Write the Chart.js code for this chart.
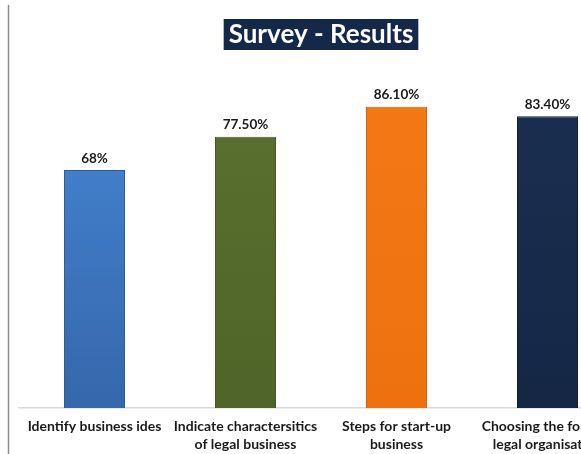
<!DOCTYPE html>
<html>
<head>
<meta charset="utf-8">
<title>Survey - Results</title>
<script src="https://cdn.jsdelivr.net/npm/chart.js@4.4.1/dist/chart.umd.min.js"></script>
<style>
    html, body {
        margin: 0;
        padding: 0;
        background: #ffffff;
        overflow: hidden;
    }
    .chart-container {
        position: absolute;
        left: 0;
        top: 0;
        width: 642px;
        height: 454px;
    }
</style>
</head>
<body>
<div class="chart-container">
    <canvas id="surveyChart" width="642" height="454"></canvas>
</div>
<script>
// Survey answers per topic (percent)
const categories = [
    ['Identify business ides'],
    ['Indicate charactersitics', 'of legal business'],
    ['Steps for start-up', 'business'],
    ['Choosing the form of', 'legal organisation']
];
const results = [68, 77.5, 86.1, 83.4];
const valueLabels = ['68%', '77.50%', '86.10%', '83.40%'];

// Bar fills: top shade, bottom shade, edge
const topColors = ['#4788d8', '#5b7231', '#f47a16', '#1b2f51'];
const bottomColors = ['#3567ab', '#4f6428', '#ee710f', '#152745'];
const edgeColors = ['#2f5c98', '#45591f', '#d4650c', '#0f1e36'];

const FONT = 'Lato, "Open Sans", sans-serif';

// Dark box behind the chart title + frame line on the left
const titleBackground = {
    id: 'titleBackground',
    beforeDraw: function(chart) {
        const ctx = chart.ctx;
        const block = chart.titleBlock;
        const opts = block.options;
        ctx.save();
        ctx.font = 'bold ' + opts.font.size + 'px ' + FONT;
        const textWidth = ctx.measureText(opts.text).width;
        const cx = (chart.chartArea.left + chart.chartArea.right) / 2;
        const y = block.top + opts.padding.top - 1;
        ctx.fillStyle = '#14284a';
        ctx.fillRect(cx - textWidth / 2 - 5, y, textWidth + 10, 31);

        ctx.strokeStyle = '#8a8a8a';
        ctx.lineWidth = 1.5;
        ctx.beginPath();
        ctx.moveTo(8.5, 5);
        ctx.lineTo(8.5, chart.height);
        ctx.stroke();
        ctx.restore();
    }
};

// Percent labels above each bar
const valueLabelPlugin = {
    id: 'valueLabels',
    afterDatasetsDraw: function(chart) {
        const ctx = chart.ctx;
        const meta = chart.getDatasetMeta(0);
        ctx.save();
        ctx.font = 'bold 13.5px ' + FONT;
        ctx.fillStyle = '#1a1a1a';
        ctx.textAlign = 'center';
        ctx.textBaseline = 'bottom';
        meta.data.forEach(function(bar, i) {
            ctx.fillText(valueLabels[i], bar.x, bar.y - 5);
        });
        ctx.restore();
    }
};

function barGradient(context) {
    const chart = context.chart;
    const area = chart.chartArea;
    const i = context.dataIndex;
    if (!area) return topColors[i];
    const g = chart.ctx.createLinearGradient(0, area.top, 0, area.bottom);
    g.addColorStop(0, topColors[i]);
    g.addColorStop(1, bottomColors[i]);
    return g;
}

const ctx = document.getElementById('surveyChart');
new Chart(ctx.getContext('2d'), {
    type: 'bar',
    data: {
        labels: categories,
        datasets: [{
            label: 'Survey - Results',
            data: results,
            backgroundColor: barGradient,
            borderColor: edgeColors,
            borderWidth: 1,
            borderSkipped: 'bottom',
            categoryPercentage: 0.404,
            barPercentage: 1
        }]
    },
    options: {
        responsive: false,
        animation: false,
        layout: {
            padding: { left: 19, right: 19, top: 0, bottom: -8 }
        },
        plugins: {
            legend: { display: false },
            tooltip: { enabled: false },
            title: {
                display: true,
                text: 'Survey - Results',
                color: '#ffffff',
                font: { family: FONT, size: 26, weight: 'bold', lineHeight: 1.1 },
                padding: { top: 20, bottom: 9.4 }
            }
        },
        scales: {
            y: {
                display: false,
                min: 0,
                max: 100
            },
            x: {
                grid: { display: false, drawTicks: false, tickLength: 0 },
                border: { display: true, color: '#d9d9d9', width: 1.5 },
                ticks: {
                    color: '#1a1a1a',
                    font: { family: FONT, size: 14, weight: 'bold', lineHeight: 1.28 },
                    padding: 9,
                    maxRotation: 0,
                    autoSkip: false
                }
            }
        }
    },
    plugins: [titleBackground, valueLabelPlugin]
});
</script>
</body>
</html>
